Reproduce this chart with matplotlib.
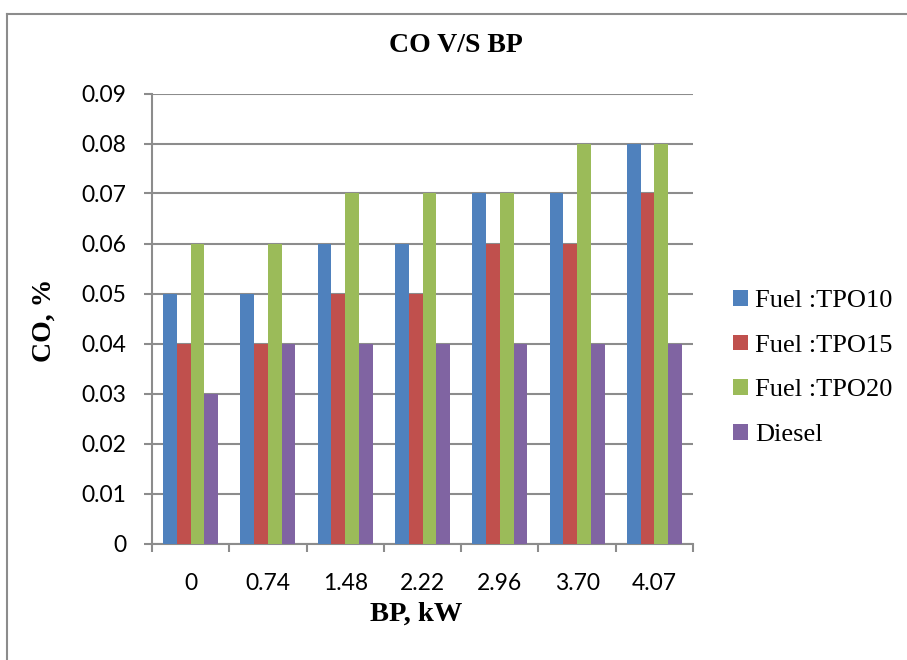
import matplotlib.pyplot as plt
from matplotlib.lines import Line2D
import numpy as np

# data
bp_labels = ['0', '0.74', '1.48', '2.22', '2.96', '3.70', '4.07']
tpo10 = [0.05, 0.05, 0.06, 0.06, 0.07, 0.07, 0.08]
tpo15 = [0.04, 0.04, 0.05, 0.05, 0.06, 0.06, 0.07]
tpo20 = [0.06, 0.06, 0.07, 0.07, 0.07, 0.08, 0.08]
diesel = [0.03, 0.04, 0.04, 0.04, 0.04, 0.04, 0.04]

series = [tpo10, tpo15, tpo20, diesel]
names = ['Fuel :TPO10', 'Fuel :TPO15', 'Fuel :TPO20', 'Diesel']
colors = ['#4F81BD', '#C0504D', '#9BBB59', '#8064A2']

W, H = 907, 660
fig = plt.figure(figsize=(W / 100, H / 100), dpi=100)
ax = fig.add_axes([152 / W, 1 - 543.5 / H, 541 / W, 450 / H])

grey = '#8c8c8c'
serif = 'Liberation Serif'

x = np.arange(len(bp_labels))
bw = 0.178
for i, (vals, name, c) in enumerate(zip(series, names, colors)):
    ax.bar(x + (i - 1.5) * bw, vals, width=bw, color=c, label=name, zorder=3)

ax.set_xlim(-0.5, len(bp_labels) - 0.5)
ax.set_ylim(0, 0.09)
ax.set_yticks(np.arange(0, 0.0901, 0.01))
ax.set_yticklabels(['0'] + ['%.2f' % v for v in np.arange(0.01, 0.0901, 0.01)])
ax.yaxis.grid(True, color=grey, linewidth=1.5, zorder=0)
ax.set_axisbelow(True)

# category boundaries carry the tick marks
ax.set_xticks(np.arange(-0.5, len(bp_labels), 1.0))
ax.set_xticklabels([])
ax.set_xticks(x, minor=True)
ax.set_xticklabels(bp_labels, minor=True, fontfamily='Lato', fontsize=16.5)
ax.tick_params(axis='x', which='major', direction='out', length=5.5, width=1.5, color=grey)
ax.tick_params(axis='x', which='minor', length=0, pad=21)
ax.tick_params(axis='y', direction='out', length=5.5, width=1.5, color=grey, pad=13,
               labelsize=16.5)
for lab in ax.get_yticklabels():
    lab.set_fontfamily('Lato')

for s in ['top', 'right']:
    ax.spines[s].set_visible(False)
for s in ['left', 'bottom']:
    ax.spines[s].set_color(grey)
    ax.spines[s].set_linewidth(1.5)

fig.text(456 / W, 1 - 46 / H, 'CO V/S BP', ha='center', va='center',
         fontfamily=serif, fontweight='bold', fontsize=20)
fig.text(44 / W, 1 - 320 / H, 'CO, %', ha='center', va='center', rotation=90,
         fontfamily=serif, fontweight='bold', fontsize=20)
fig.text(416 / W, 1 - 614 / H, 'BP, kW', ha='center', va='center',
         fontfamily=serif, fontweight='bold', fontsize=20.5)

ax.legend(loc='center left', bbox_to_anchor=(733 / W, 1 - 368 / H),
          bbox_transform=fig.transFigure, frameon=False, borderpad=0,
          borderaxespad=0, handlelength=0.55, handleheight=0.55, handletextpad=0.3,
          labelspacing=0.85, prop={'family': serif, 'size': 19})

# outer frame of the chart
fig.add_artist(Line2D([7 / W, 7 / W], [0, 1 - 14 / H], color=grey, linewidth=1.5))
fig.add_artist(Line2D([7 / W, 1], [1 - 14 / H, 1 - 14 / H], color=grey, linewidth=1.5))

fig.savefig('out.png', dpi=100)
